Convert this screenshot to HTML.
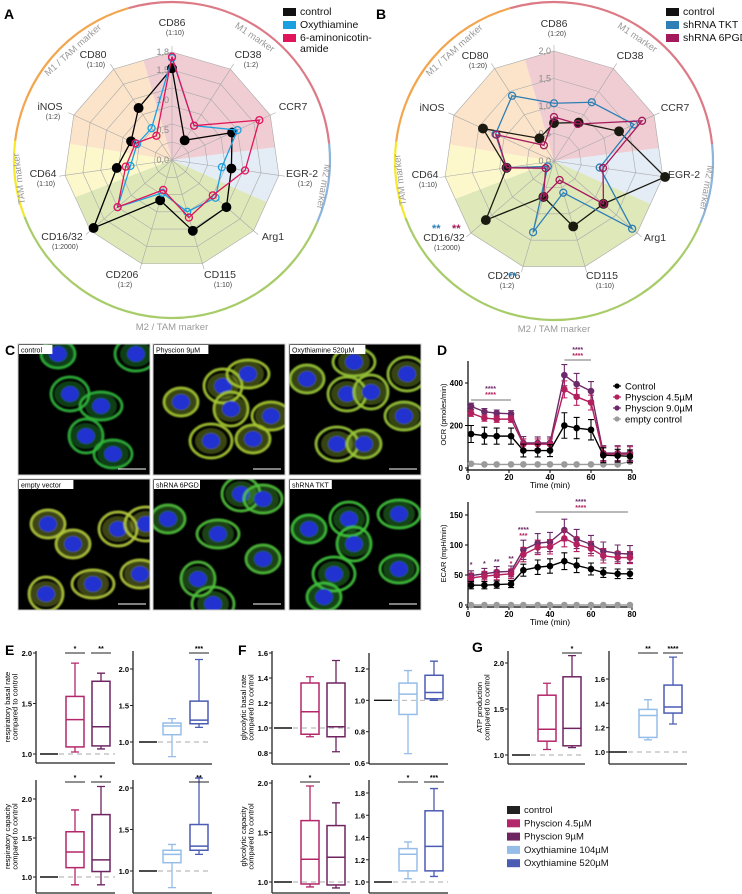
<!DOCTYPE html>
<html><head><meta charset="utf-8">
<style>
html,body{margin:0;padding:0;background:#fff;}
svg{display:block;font-family:"Liberation Sans",sans-serif;}
</style></head>
<body>
<svg id="fig" width="742" height="894" viewBox="0 0 742 894" xmlns="http://www.w3.org/2000/svg">
<defs>
<filter id="blur1" x="-20%" y="-20%" width="140%" height="140%"><feGaussianBlur stdDeviation="0.9"/></filter>
</defs>
<g id="layer"></g>
</svg>
<script>
// ---------- Radar data ----------
const radarAxes = ["CD86","CD38","CCR7","EGR-2","Arg1","CD115","CD206","CD16/32","CD64","iNOS","CD80"];
const radarASubs = ["(1:10)","(1:2)","","(1:2)","","(1:10)","(1:2)","(1:2000)","(1:10)","(1:2)","(1:10)"];
const radarBSubs = ["(1:20)","","","","","(1:10)","(1:2)","(1:2000)","(1:10)","","(1:20)"];
const aControl = [1.53,0.39,1.1,1.0,1.2,1.23,0.7,1.73,0.93,0.75,1.03];
const aOxy     = [1.7,0.68,1.2,0.84,0.96,0.9,0.57,1.2,0.7,0.64,0.63];
const a6AN     = [1.72,0.68,1.6,1.23,0.9,1.0,0.52,1.2,0.78,0.67,0.48];
const bControl = [0.69,0.83,1.3,2.04,1.19,1.24,0.68,1.64,0.87,1.42,0.49];
const bTKT     = [1.05,1.27,1.6,0.84,1.88,0.6,1.35,0.15,0.87,1.17,1.41];
const b6PGD    = [0.8,0.8,1.76,0.9,1.19,0.36,0.68,0.2,0.87,1.15,0.34];
const radarATicks = ["0,0","0,5","1,0","1,5","1,8"];
const radarATickVals = [0,0.5,1.0,1.5,1.8];
const radarBTicks = ["0,0","0,5","1,0","1,5","2,0"];
const radarBTickVals = [0,0.5,1.0,1.5,2.0];

// ---------- Seahorse data ----------
const timePoints = [1.5,8,14,21,27,34,40,47,53,60,66,73,79];
const ocrControl = [160,152,150,150,82,82,82,200,188,180,60,58,55];
const ocrControlErr = [40,40,38,38,30,30,28,60,50,48,35,30,30];
const ocrP45 = [258,235,230,230,112,112,112,370,335,308,65,65,65];
const ocrP45Err = [15,15,15,15,25,25,25,40,40,35,35,35,35];
const ocrP9 = [290,265,258,255,118,118,118,437,395,362,70,70,70];
const ocrP9Err = [15,15,15,15,30,28,28,50,50,45,35,35,35];
const ocrEmpty = [20,17,17,17,17,17,17,17,17,17,17,17,30];
const ocrTicks = [0,200,400];
const ecarControl = [33,33,34,35,58,63,65,73,66,60,54,52,52];
const ecarControlErr = [6,6,6,6,10,12,12,14,12,10,8,8,8];
const ecarP45 = [45,48,50,52,84,96,97,111,101,94,82,79,79];
const ecarP45Err = [8,8,8,8,12,12,12,14,12,12,12,10,10];
const ecarP9 = [49,52,55,56,92,103,105,125,110,101,90,86,85];
const ecarP9Err = [8,9,9,9,16,16,16,18,16,15,15,14,14];
const ecarEmpty = [0,0,0,0,0,0,0,0,0,0,0,0,0];
const ecarTicks = [0,50,100,150];
const timeTicks = [0,20,40,60,80];

// ---------- Box data [min,q1,median,q3,max] ----------
const eBasalP45 = [1.02,1.07,1.34,1.57,1.90];
const eBasalP9  = [1.05,1.08,1.27,1.72,1.80];
const eBasalO104 = [0.80,1.10,1.22,1.26,1.32];
const eBasalO520 = [1.20,1.25,1.30,1.56,2.13];
const eCapP45 = [0.90,1.12,1.32,1.58,1.86];
const eCapP9  = [0.90,1.07,1.22,1.80,2.16];
const eCapO104 = [0.80,1.10,1.20,1.25,1.32];
const eCapO520 = [1.20,1.25,1.30,1.56,2.12];
const fBasalP45 = [0.93,0.95,1.13,1.36,1.41];
const fBasalP9  = [0.81,0.93,1.01,1.36,1.54];
const fBasalO104 = [0.66,0.91,1.04,1.11,1.19];
const fBasalO520 = [1.00,1.01,1.05,1.16,1.25];
const fCapP45 = [0.95,0.98,1.23,1.62,1.97];
const fCapP9  = [0.94,0.97,1.25,1.57,1.80];
const fCapO104 = [1.03,1.10,1.25,1.30,1.36];
const fCapO520 = [1.05,1.10,1.32,1.64,1.84];
const gAtpP45 = [1.06,1.15,1.28,1.65,1.78];
const gAtpP9  = [1.08,1.10,1.29,1.85,2.08];
const gAtpO104 = [1.10,1.12,1.30,1.35,1.43];
const gAtpO520 = [1.23,1.32,1.37,1.55,1.78];
const controlBox = [1,1,1,1,1];

const NS="http://www.w3.org/2000/svg";
const layer=document.getElementById('layer');
function mk(tag,attrs,parent,txt){const e=document.createElementNS(NS,tag);for(const k in attrs)e.setAttribute(k,attrs[k]);if(txt!==undefined)e.textContent=txt;(parent||layer).appendChild(e);return e;}
function grp(name,parent){const g=mk('g',{},parent);return g;}

[["A",4,19],["B",376,19],["C",5,355],["D",437,355],["E",5,655],["F",238,655],["G",472,652]].forEach(p=>{
  const t=mk('text',{x:p[1],y:p[2],'font-size':14,'font-weight':'bold'},layer,p[0]);
  
  
});

// ---------- Radar ----------
const sectorDefs=[[-16,83,'#efcdd3'],[83,114,'#e4ecf5'],[114,249,'#dee8b9'],[249,279,'#fdf7cc'],[279,344,'#fbe4c9']];
const ringDefs=[[-16,84,'#dc7a86'],[84,113,'#8db4dc'],[113,249,'#a8cc6a'],[249,277,'#f4e92a'],[277,344,'#f2a64e']];
function pt(cx,cy,r,deg){const a=deg*Math.PI/180;return [cx+r*Math.sin(a),cy-r*Math.cos(a)];}
function arcPath(cx,cy,r,a0,a1){const p0=pt(cx,cy,r,a0),p1=pt(cx,cy,r,a1);return `M${p0[0]},${p0[1]} A${r},${r} 0 ${a1-a0>180?1:0} 1 ${p1[0]},${p1[1]}`;}
const labelOffsets=[[0,-134],[76,-102],[121,-50],[130,17],[101,80],[48,118],[-50,118],[-110,80],[-129,17],[-122,-50],[-79,-102]];

function radar(id,cx,cy,maxV,scale,ringStep,subs,series,tickLbl,tickVals,ringR){
  const g=grp('radar-'+id);
  const n=radarAxes.length, R=maxV*scale;
  const ang=i=>i*360/n;
  const web=radarAxes.map((_,i)=>pt(cx,cy,R,ang(i)));
  const cp=mk('clipPath',{id:'clip'+id},g);
  mk('polygon',{points:web.map(p=>p.join(',')).join(' ')},cp);
  const sg=grp('sector-shading',g); sg.setAttribute('clip-path',`url(#clip${id})`);
  sectorDefs.forEach(s=>{const p0=pt(cx,cy,R+40,s[0]),p1=pt(cx,cy,R+40,s[1]);
    const w=mk('path',{d:`M${cx},${cy} L${p0[0]},${p0[1]} A${R+40},${R+40} 0 0 1 ${p1[0]},${p1[1]} Z`,fill:s[2]},sg);
     });
  const gg=grp('radar-grid',g);
  for(let v=ringStep;v<=maxV+1e-6;v+=ringStep){
    const pts=radarAxes.map((_,i)=>pt(cx,cy,v*scale,ang(i)).join(',')).join(' ');
    mk('polygon',{points:pts,fill:'none',stroke:'#a9a9a9','stroke-width':0.6},gg);
  }
  radarAxes.forEach((a,i)=>{const p=pt(cx,cy,R+6,ang(i));mk('line',{x1:cx,y1:cy,x2:p[0],y2:p[1],stroke:'#a9a9a9','stroke-width':0.6},gg);});
  ringDefs.forEach(r=>{const e=mk('path',{d:arcPath(cx,cy,ringR,r[0],r[1]),fill:'none',stroke:r[2],'stroke-width':2.2},g);
    });
  const rl=[[34,ringR-10,'M1 marker'],[100,ringR-4,'M2 marker'],[180,ringR+9,'M2 / TAM marker'],[-97,ringR-4,'TAM marker'],[-42,ringR-10,'M1 / TAM marker']];
  rl.forEach(r=>{const p=pt(cx,cy,r[1],r[0]);let rot=r[0];if(r[0]===180)rot=0;
    const t=mk('text',{x:p[0],y:p[1]+3,'font-size':9.5,fill:'#9a9a9a','text-anchor':'middle',transform:`rotate(${rot} ${p[0]} ${p[1]})`},g,r[2]);
    });
  tickVals.forEach((v,i)=>{const t=mk('text',{x:cx-3,y:cy-v*scale+3,'font-size':9,fill:'#8a8a8a','text-anchor':'end'},g,tickLbl[i]);
    });
  radarAxes.forEach((a,i)=>{const o=labelOffsets[i];const x=cx+o[0],y=cy+o[1];
    const t=mk('text',{x:x,y:y,'font-size':10.5,fill:'#333','text-anchor':'middle'},g,a);
    
    if(subs[i]){const s=mk('text',{x:x+3,y:y+9,'font-size':7,fill:'#444','text-anchor':'middle'},g,subs[i]);
      }
  });
  series.forEach(s=>{
    const sgp=grp('series-'+s.name,g);
    const pts=s.vals.map((v,i)=>pt(cx,cy,v*scale,ang(i)));
    const pl=mk('polygon',{points:pts.map(p=>p.join(',')).join(' '),fill:'none',stroke:s.color,'stroke-width':1.3},sgp);
    
    pts.forEach(p=>{const c=mk('circle',{cx:p[0],cy:p[1],r:s.filled?4.3:3.5,fill:s.filled?s.color:'none',stroke:s.color,'stroke-width':1.3},sgp);
      });
  });
}
radar('a',172,160,1.8,60,0.3,radarASubs,[
  {name:'control',vals:aControl,color:'#000',filled:true},
  {name:'oxythiamine',vals:aOxy,color:'#1aa0e0',filled:false},
  {name:'6-aminonicotinamide',vals:a6AN,color:'#e0145a',filled:false}],radarATicks,radarATickVals,158);
radar('b',554,161,2.0,55,0.5,radarBSubs,[
  {name:'control',vals:bControl,color:'#1b1a10',filled:true},
  {name:'shrna-tkt',vals:bTKT,color:'#2e7fb5',filled:false},
  {name:'shrna-6pgd',vals:b6PGD,color:'#a3195c',filled:false}],radarBTicks,radarBTickVals,159);
[[432,232,'**','#2e7fb5'],[452,232,'**','#a3195c'],[508,280,'**','#2e7fb5']].forEach(s=>{
  const t=mk('text',{x:s[0],y:s[1],'font-size':11,'font-weight':'bold',fill:s[3]},layer,s[2]);
  });

function legend(name,x,y,items,fs,dy){
  const g=grp(name);
  items.forEach((it,i)=>{
    const r=mk('rect',{x:x,y:y+i*dy-7,width:13,height:8,fill:it[1]},g);
    
    const lines=it[0].split('\n');
    lines.forEach((l,j)=>{const t=mk('text',{x:x+17,y:y+i*dy+j*11,'font-size':fs,fill:'#111'},g,l);
      });
  });
}
legend('legend-a',283,15,[['control','#111'],['Oxythiamine','#1aa0e0'],['6-aminonicotin-\namide','#e0145a']],10.5,13);
legend('legend-b',666,15,[['control','#111'],['shRNA TKT','#2e7fb5'],['shRNA 6PGD','#a3195c']],10.5,13);

// ---------- Panel C micrographs ----------
const tiles=[[18,344,'control'],[153,344,'Physcion 9µM'],[289,344,'Oxythiamine 520µM'],[18,479,'empty vector'],[153,479,'shRNA 6PGD'],[289,479,'shRNA TKT']];
const cellSpots=[[[40,10],[52,50],[83,62],[68,92],[95,110],[118,10]],[[28,58],[70,42],[95,30],[78,65],[118,72],[58,97],[100,95]],[[18,35],[58,50],[65,18],[82,48],[115,72],[48,100],[75,100],[118,30]],[[30,45],[100,50],[75,105],[28,115],[122,95],[128,45],[55,65]],[[15,40],[88,15],[65,55],[45,100],[110,20],[60,125],[110,80]],[[20,50],[60,40],[110,35],[65,65],[110,90],[45,95],[35,118]]];
const greens=['#2fb53a','#a6c832','#9ac637','#b3c83a','#50c03a','#3fc23c'];
tiles.forEach((t,k)=>{
  const g=grp('micrograph-'+t[2].toLowerCase().replace(/[^a-z0-9]+/g,'-'));
  const cp=mk('clipPath',{id:'tile'+k},g);
  mk('rect',{x:t[0],y:t[1],width:132,height:131},cp);
  mk('rect',{x:t[0],y:t[1],width:132,height:131,fill:'#000'},g);
  const inner=mk('g',{'clip-path':`url(#tile${k})`},g);
  const bl=mk('g',{filter:'url(#blur1)'},inner);
  cellSpots[k].forEach((c,j)=>{
    mk('ellipse',{cx:t[0]+c[0],cy:t[1]+c[1],rx:17+(j%3)*2,ry:14+(j%2)*3,fill:'none',stroke:greens[k],'stroke-width':3,opacity:0.9},bl);
    mk('ellipse',{cx:t[0]+c[0],cy:t[1]+c[1],rx:16,ry:13,fill:greens[k],opacity:0.35},bl);
    mk('ellipse',{cx:t[0]+c[0],cy:t[1]+c[1],rx:9,ry:8,fill:'#2233d0'},bl);
  });
  mk('rect',{x:t[0],y:t[1],width:132,height:131,fill:'none',stroke:'#ccc','stroke-width':1},g);
  mk('rect',{x:t[0]+1,y:t[1]+1,width:t[2].length*4.2+4,height:9,fill:'#fff'},g);
  const tx=mk('text',{x:t[0]+3,y:t[1]+8.5,'font-size':7,fill:'#000'},g,t[2]);
  
  mk('line',{x1:t[0]+100,y1:t[1]+125,x2:t[0]+128,y2:t[1]+125,stroke:'#fff','stroke-width':1},g);
});

// ---------- Panel D ----------
const dX=t=>468+t*164/80;
const ocrY=v=>468-v*0.2125;
const ecarY=v=>605-v*0.6;
function lineChart(name,yf,yTop,ticks,series,label){
  const g=grp(name);
  mk('line',{x1:468,y1:yTop,x2:468,y2:yf(0)+2,stroke:'#000','stroke-width':1.2},g);
  mk('line',{x1:466,y1:yf(0)+2,x2:632,y2:yf(0)+2,stroke:'#000','stroke-width':1.2},g);
  ticks.forEach(v=>{mk('line',{x1:465,y1:yf(v),x2:468,y2:yf(v),stroke:'#000'},g);
    const t=mk('text',{x:463,y:yf(v)+3,'font-size':8,'font-weight':'bold','text-anchor':'end'},g,String(v));
    });
  timeTicks.forEach(v=>{mk('line',{x1:dX(v),y1:yf(0)+2,x2:dX(v),y2:yf(0)+5,stroke:'#000'},g);
    const t=mk('text',{x:dX(v),y:yf(0)+12,'font-size':8,'font-weight':'bold','text-anchor':'middle'},g,String(v));
    });
  const xt=mk('text',{x:550,y:yf(0)+20,'font-size':8.5,'text-anchor':'middle'},g,'Time (min)');
  
  const yl=mk('text',{x:0,y:0,'font-size':7.5,'text-anchor':'middle',transform:`translate(446 ${(yTop+yf(0))/2}) rotate(-90)`},g,label);
  
  series.forEach(s=>{
    const sg=grp('series-'+s.name,g);
    if(s.err) s.vals.forEach((v,i)=>{const x=dX(timePoints[i]);
      mk('path',{d:`M${x},${yf(v-s.err[i])}V${yf(v+s.err[i])}M${x-3},${yf(v-s.err[i])}h6M${x-3},${yf(v+s.err[i])}h6`,stroke:s.color,'stroke-width':1.1,fill:'none'},sg);});
    const pl=mk('polyline',{points:s.vals.map((v,i)=>dX(timePoints[i])+','+yf(v)).join(' '),fill:'none',stroke:s.color,'stroke-width':1.4},sg);
    
    s.vals.forEach((v,i)=>{const c=mk('circle',{cx:dX(timePoints[i]),cy:yf(v),r:3.3,fill:s.color},sg);
      });
  });
}
lineChart('ocr-chart',ocrY,361,ocrTicks,[
  {name:'empty-control',vals:ocrEmpty,color:'#9b9b9b'},
  {name:'physcion-9',vals:ocrP9,err:ocrP9Err,color:'#6d2a68'},
  {name:'physcion-4-5',vals:ocrP45,err:ocrP45Err,color:'#b4205e'},
  {name:'control',vals:ocrControl,err:ocrControlErr,color:'#000'}],'OCR (pmoles/min)');
lineChart('ecar-chart',ecarY,502,ecarTicks,[
  {name:'empty-control',vals:ecarEmpty,color:'#9b9b9b'},
  {name:'physcion-9',vals:ecarP9,err:ecarP9Err,color:'#6d2a68'},
  {name:'physcion-4-5',vals:ecarP45,err:ecarP45Err,color:'#b4205e'},
  {name:'control',vals:ecarControl,err:ecarControlErr,color:'#000'}],'ECAR (mpH/min)');
function sig(x,y,txt,col,fs){const t=mk('text',{x:x,y:y,'font-size':fs||7,'font-weight':'bold',fill:col,'text-anchor':'middle'},layer,txt);
  }
mk('line',{x1:dX(1.5),y1:400,x2:dX(21),y2:400,stroke:'#444','stroke-width':0.8});
sig(dX(11),391,'****','#6d2a68');sig(dX(11),397,'****','#b4205e');
mk('line',{x1:dX(47),y1:360,x2:dX(60),y2:360,stroke:'#444','stroke-width':0.8});
sig(dX(53.5),352,'****','#6d2a68');sig(dX(53.5),358,'****','#b4205e');
mk('line',{x1:dX(33),y1:512,x2:dX(78),y2:512,stroke:'#444','stroke-width':0.8});
sig(dX(55),504,'****','#6d2a68');sig(dX(55),510,'****','#b4205e');
sig(dX(1.5),567,'*','#6d2a68');sig(dX(8),566,'*','#6d2a68');sig(dX(14),564,'**','#6d2a68');
sig(dX(21),561,'**','#6d2a68');sig(dX(21),566,'*','#b4205e');
sig(dX(27),532,'****','#6d2a68');sig(dX(27),538,'***','#b4205e');
(function(){const g=grp('legend-d');
  [['Control','#000'],['Physcion 4.5µM','#b4205e'],['Physcion 9.0µM','#6d2a68'],['empty control','#9b9b9b']].forEach((it,i)=>{
    const y=386+i*11;
    mk('line',{x1:613,y1:y,x2:621,y2:y,stroke:it[1],'stroke-width':1.2},g);
    mk('circle',{cx:617,cy:y,r:2.6,fill:it[1]},g);
    const t=mk('text',{x:625,y:y+3.5,'font-size':9.5},g,it[0]);
    });
})();

// ---------- Box plots ----------
const cP45='#b4266a', cP9='#6e2460', cO104='#95bde8', cO520='#4b5cb3';
function lin(v0,p0,v1,p1){return v=>p0+(v-v0)*(p1-p0)/(v1-v0);}
function boxPanel(name,ax,x1,yb,ytop,sc,ticks,dec,xs,datas,cols,sigs,ylab){
  const g=grp(name);
  mk('line',{x1:ax,y1:ytop,x2:ax,y2:yb,stroke:'#222','stroke-width':1.3},g);
  mk('line',{x1:ax,y1:yb,x2:x1,y2:yb,stroke:'#222','stroke-width':1.3},g);
  ticks.forEach(v=>{mk('line',{x1:ax-3,y1:sc(v),x2:ax,y2:sc(v),stroke:'#222'},g);
    const t=mk('text',{x:ax-4,y:sc(v)+3,'font-size':7.5,'font-weight':'bold','text-anchor':'end'},g,v.toFixed(dec));
    });
  mk('line',{x1:xs[0]+10,y1:sc(1),x2:x1,y2:sc(1),stroke:'#aaa','stroke-width':0.9,'stroke-dasharray':'5,4'},g);
  datas.forEach((d,i)=>{const x=xs[i],c=cols[i],w=9;
    const bg=grp('box',g);
    if(i===0){mk('line',{x1:x-9,y1:sc(d[2]),x2:x+9,y2:sc(d[2]),stroke:'#111','stroke-width':1.4},bg);return;}
    mk('path',{d:`M${x},${sc(d[0])}V${sc(d[1])}M${x},${sc(d[3])}V${sc(d[4])}M${x-4},${sc(d[0])}h8M${x-4},${sc(d[4])}h8`,stroke:c,'stroke-width':1.3,fill:'none'},bg);
    mk('rect',{x:x-w,y:sc(d[3]),width:2*w,height:sc(d[1])-sc(d[3]),fill:'none',stroke:c,'stroke-width':1.5},bg);
    mk('line',{x1:x-w,y1:sc(d[2]),x2:x+w,y2:sc(d[2]),stroke:c,'stroke-width':1.5},bg);
  });
  sigs.forEach(s=>{const x=xs[s[0]];mk('line',{x1:x-10,y1:ytop+2,x2:x+10,y2:ytop+2,stroke:'#222','stroke-width':1.1},g);
    const t=mk('text',{x:x,y:ytop,'font-size':7,'font-weight':'bold','text-anchor':'middle'},g,s[1]);
    });
  if(ylab){const cy=(ytop+yb)/2;
    ylab.forEach((l,j)=>{const t=mk('text',{x:0,y:0,'font-size':7.5,'text-anchor':'middle',transform:`translate(${ax-26+j*7.5} ${cy}) rotate(-90)`},g,l);
      });}
}
boxPanel('e-basal-physcion',36,115,763,651,lin(1,754,2,653),[1.0,1.5,2.0],1,[49,75,101],[controlBox,eBasalP45,eBasalP9],['#000',cP45,cP9],[[1,'*'],[2,'**']],['respiratory basal rate','compared to control']);
boxPanel('e-basal-oxythiamine',133,212,764,651,lin(1,742,2,669),[1.0,1.5,2.0],1,[148,172,199],[controlBox,eBasalO104,eBasalO520],['#000',cO104,cO520],[[2,'***']],null);
boxPanel('e-capacity-physcion',36,115,893,780,lin(1,877,2,799),[1.0,1.5,2.0],1,[49,75,101],[controlBox,eCapP45,eCapP9],['#000',cP45,cP9],[[1,'*'],[2,'*']],['respiratory capacity','compared to control']);
boxPanel('e-capacity-oxythiamine',133,212,893,780,lin(1,871,2,788),[1.0,1.5,2.0],1,[148,172,199],[controlBox,eCapO104,eCapO520],['#000',cO104,cO520],[[2,'**']],null);
boxPanel('f-basal-physcion',272,350,764,651,lin(1,728,1.6,653),[0.8,1.0,1.2,1.4,1.6],1,[283,310,336],[controlBox,fBasalP45,fBasalP9],['#000',cP45,cP9],[],['glycolytic basal rate','compared to control']);
boxPanel('f-basal-oxythiamine',369,448,764,653,lin(0.6,763,1.2,669),[0.6,0.8,1.0,1.2],1,[383,408,434],[controlBox,fBasalO104,fBasalO520],['#000',cO104,cO520],[],null);
boxPanel('f-capacity-physcion',272,350,893,780,lin(1,882,2,783),[1.0,1.5,2.0],1,[283,310,336],[controlBox,fCapP45,fCapP9],['#000',cP45,cP9],[[1,'*']],['glycolytic capacity','compared to control']);
boxPanel('f-capacity-oxythiamine',369,448,893,780,lin(1,882,1.8,793),[1.0,1.2,1.4,1.6,1.8],1,[383,408,434],[controlBox,fCapO104,fCapO520],['#000',cO104,cO520],[[1,'*'],[2,'***']],null);
boxPanel('g-atp-physcion',508,585,764,651,lin(1,755,2,663),[1.0,1.5,2.0],1,[521,547,572],[controlBox,gAtpP45,gAtpP9],['#000',cP45,cP9],[[2,'*']],['ATP production','compared to control']);
boxPanel('g-atp-oxythiamine',609,687,764,651,lin(1,752,1.6,679),[1.0,1.2,1.4,1.6],1,[618,648,673],[controlBox,gAtpO104,gAtpO520],['#000',cO104,cO520],[[1,'**'],[2,'****']],null);
legend('legend-g',507,813,[['control','#222'],['Physcion 4.5µM',cP45],['Physcion 9µM',cP9],['Oxythiamine 104µM',cO104],['Oxythiamine 520µM',cO520]],9.5,13.3);
</script>
</body></html>
